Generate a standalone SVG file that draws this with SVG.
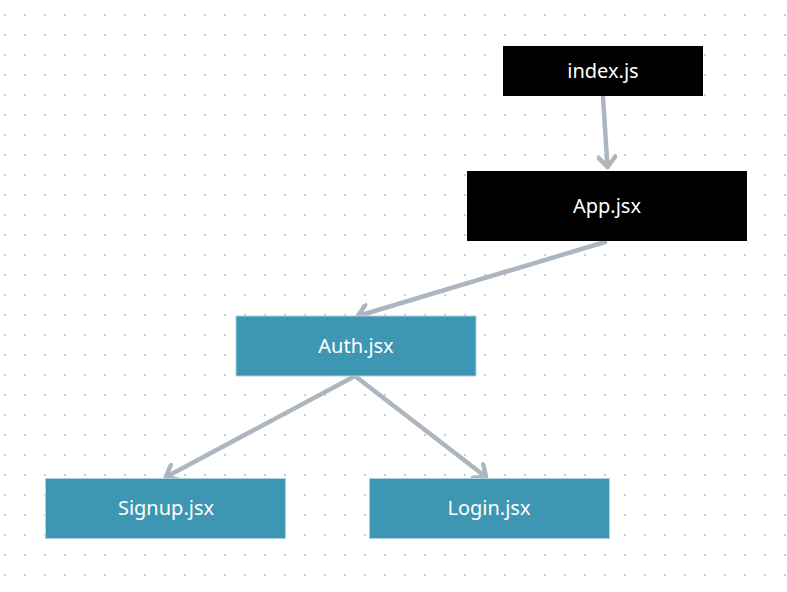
<svg xmlns="http://www.w3.org/2000/svg" width="787" height="592" viewBox="0 0 787 592">
  <defs>
    <pattern id="dots" x="4" y="14" width="20" height="20" patternUnits="userSpaceOnUse">
      <rect x="0" y="0" width="2" height="2" fill="#c9cdd8"/>
    </pattern>
    <marker id="chev" viewBox="-14 -10 17 20" markerWidth="17" markerHeight="20" refX="0" refY="0" orient="auto" markerUnits="userSpaceOnUse">
      <path d="M-10,-8.5 L0,0 L-10,8.5" fill="none" stroke="#adb6be" stroke-width="4.5" stroke-linecap="round" stroke-linejoin="round"/>
    </marker>
  </defs>
  <style>
    .dark rect { fill: #000000; }
    .teal rect { fill: #3e97b2; stroke: #a9d4e0; stroke-width: 1; }
    text { fill: #ffffff; font-family: "Noto Sans", "Open Sans", sans-serif; font-size: 20px; text-anchor: middle; }
    .edge { fill: none; stroke: #adb6be; stroke-width: 4.5; stroke-linecap: round; marker-end: url(#chev); }
  </style>
  <rect x="0" y="0" width="787" height="592" fill="#ffffff"/>
  <rect x="0" y="0" width="787" height="592" fill="url(#dots)"/>

  <g id="connectors">
    <line class="edge" x1="603" y1="97" x2="607.5" y2="167"/>
    <line class="edge" x1="605" y1="242" x2="358" y2="316"/>
    <line class="edge" x1="355" y1="376" x2="166" y2="477"/>
    <line class="edge" x1="355" y1="376" x2="486" y2="477"/>
  </g>

  <g id="node-index" class="dark">
    <rect x="503" y="46" width="200" height="50"/>
    <text x="603" y="78">index.js</text>
  </g>
  <g id="node-app" class="dark">
    <rect x="467" y="171" width="280" height="70"/>
    <text x="607" y="213">App.jsx</text>
  </g>
  <g id="node-auth" class="teal">
    <rect x="236" y="316" width="240" height="60"/>
    <text x="356" y="353">Auth.jsx</text>
  </g>
  <g id="node-signup" class="teal">
    <rect x="45.5" y="478.5" width="240" height="60"/>
    <text x="166" y="515">Signup.jsx</text>
  </g>
  <g id="node-login" class="teal">
    <rect x="369.5" y="478.5" width="240" height="60"/>
    <text x="489" y="515">Login.jsx</text>
  </g>
</svg>
